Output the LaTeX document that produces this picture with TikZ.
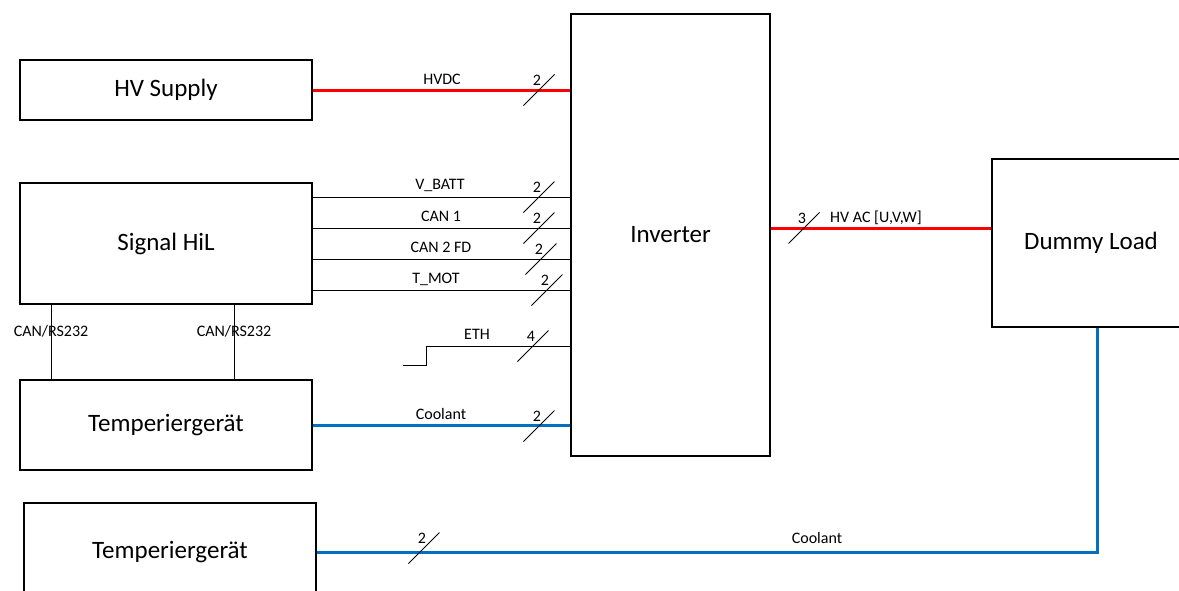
\documentclass[tikz,border=0pt]{standalone}
\usepackage{fontspec}
\setmainfont{Carlito}
\usetikzlibrary{calc}
\definecolor{hvred}{RGB}{255,0,0}
\definecolor{coolblue}{RGB}{0,112,192}
\tikzset{
  box/.style={draw=black, line width=1.6pt, fill=white, inner sep=0pt, font=\fontsize{25}{30}\selectfont},
  sigline/.style={draw=black, line width=0.9pt},
  hvline/.style={draw=hvred, line width=3pt},
  coolline/.style={draw=coolblue, line width=3pt},
  lbl/.style={inner sep=0pt, anchor=base, font=\fontsize{16}{19}\selectfont},
  pics/bus/.style={code={
    \draw[line width=0.9pt] (-15.5,15.5) -- (15.5,-15.5);
    \node[lbl] at (-2,-5) {#1};
  }}
}
\begin{document}
\begin{tikzpicture}[x=1pt, y=-1pt]
\useasboundingbox (0,0) rectangle (1179,590);
\clip (0,0) rectangle (1179,590);
% boxes
\node[box, minimum width=292pt, minimum height=60pt] (hv) at (166,90) {HV Supply};
\node[box, minimum width=292pt, minimum height=121pt] (sig) at (166,243.5) {Signal HiL};
\node[box, minimum width=292pt, minimum height=90pt] (temp1) at (166,425) {Temperiergerät};
\node[box, minimum width=292pt, minimum height=98pt] (temp2) at (170,552) {Temperiergerät};
\node[box, minimum width=199pt, minimum height=442pt] (inv) at (670.5,235) {Inverter};
\node[box, minimum width=198pt, minimum height=168pt] (load) at (1091,243) {Dummy Load};
% helper coordinates
\coordinate (yV) at (0,197);
\coordinate (yC1) at (0,228);
\coordinate (yC2) at (0,259);
\coordinate (yT) at (0,290);
\coordinate (yE) at (0,346);
\coordinate (yCool) at (0,426);
\coordinate (yAC) at (0,228);
\coordinate (eth0) at (403,365);
\coordinate (eth1) at (426,365);
\coordinate (can1x) at (51,0);
\coordinate (can2x) at (234,0);
\coordinate (coolx) at (1097,0);
% HVDC
\draw[hvline] (hv.east) -- (hv.east -| inv.west);
\node[lbl] (lhvdc) at (442,84) {HVDC};
\pic at (539,90) {bus=2};
% signal lines
\draw[sigline] (sig.east |- yV) -- (inv.west |- yV);
\node[lbl] (lvb) at (440,189.5) {V\_BATT};
\pic at (539,197) {bus=2};
\draw[sigline] (sig.east |- yC1) -- (inv.west |- yC1);
\node[lbl] (lc1) at (441,221) {CAN 1};
\pic at (539,228) {bus=2};
\draw[sigline] (sig.east |- yC2) -- (inv.west |- yC2);
\node[lbl] (lc2) at (441,252) {CAN 2 FD};
\pic at (541,259) {bus=2};
\draw[sigline] (sig.east |- yT) -- (inv.west |- yT);
\node[lbl] (lt) at (436,283) {T\_MOT};
\pic at (547,290) {bus=2};
% ETH
\draw[sigline] (eth0) -- (eth1) |- (inv.west |- yE);
\node[lbl] (leth) at (477,339) {ETH};
\pic at (533,346) {bus=4};
% coolant top
\draw[coolline] (temp1.east) -- (temp1.east -| inv.west);
\node[lbl] (lcool1) at (441,419) {Coolant};
\pic at (539,426) {bus=2};
% HV AC
\draw[hvline] (inv.east |- yAC) -- (load.west |- yAC);
\node[lbl, anchor=base west] (lac) at (830,222) {HV AC [U,V,W]};
\pic at (804,228) {bus=3};
% CAN/RS232
\draw[sigline] (sig.south -| can1x) -- (temp1.north -| can1x);
\draw[sigline] (sig.south -| can2x) -- (temp1.north -| can2x);
\node[lbl] (lcan1) at (51,336) {CAN/RS232};
\node[lbl] (lcan2) at (234,336) {CAN/RS232};
% bottom coolant
\draw[coolline] (temp2.east) -- (temp2.east -| coolx) -- (load.south -| coolx);
\node[lbl] (lcool2) at (817,543) {Coolant};
\pic at (424,548) {bus=2};
\end{tikzpicture}
\end{document}
